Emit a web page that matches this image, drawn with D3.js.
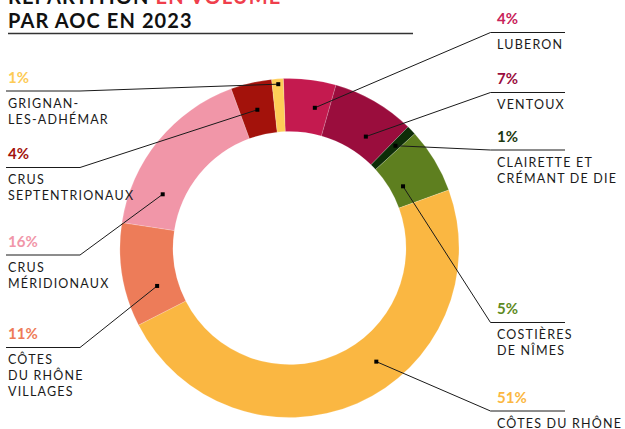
<!DOCTYPE html>
<html>
<head>
<meta charset="utf-8">
<script src="https://cdn.jsdelivr.net/npm/d3@7"></script>
<style>
  html, body { margin: 0; padding: 0; background: #fff; }
  svg { display: block; font-family: Lato, "Open Sans", sans-serif; }
</style>
</head>
<body>
<div id="grafica"></div>
<script>
// donnees : part du volume par AOC
const categories = ["Luberon", "Ventoux", "Clairette et Crémant de Die", "Costières de Nîmes",
  "Côtes du Rhône", "Côtes du Rhône Villages", "Crus méridionaux", "Crus septentrionaux", "Grignan-les-Adhémar"];
const shares = [5.0, 7.9, 0.9, 6.2, 48.0, 9.9, 17.0, 3.9, 1.1];
const pctLabels = ["4%", "7%", "1%", "5%", "51%", "11%", "16%", "4%", "1%"];
const nameLines = [["LUBERON"], ["VENTOUX"], ["CLAIRETTE ET", "CRÉMANT DE DIE"], ["COSTIÈRES", "DE NÎMES"],
  ["CÔTES DU RHÔNE"], ["CÔTES", "DU RHÔNE", "VILLAGES"], ["CRUS", "MÉRIDIONAUX"], ["CRUS", "SEPTENTRIONAUX"],
  ["GRIGNAN-", "LES-ADHÉMAR"]];

// couleurs
const colors = ["#c41a4f", "#9a0d3d", "#0d2d08", "#5e7f1f", "#fab742", "#ed7c59", "#f196a8", "#a3120b", "#fecd57"];
const textColors = ["#c8235a", "#9a0d3d", "#1c3a10", "#5e8a22", "#fbb741", "#ee7b58", "#f196a8", "#a3120b", "#fdcb55"];

// mise en page des etiquettes
const labelY = [32.5, 92.5, 150, 322.5, 411, 347.5, 255, 167.5, 91];
const dotPos = [[0.685, 0.49], [0.65, 0.35], [0.5, 0.58], [0.62, 0.24], [0.42, 0.5],
  [0.31, 0.4], [0.234, 0.4], [0.5, 0.48], [0.54, 0.9]];

let width = 625, height = 429;
let cx = 289.5, cy = 248;
let rOut = 169.5, rIn = 116.5;
let start = -2.1 * Math.PI / 180;

let svg = d3.select("#grafica").append("svg")
  .attr("width", width).attr("height", height);

// titre
svg.append("text").attr("x", 8).attr("y", 4)
  .style("font-size", "20px").style("font-weight", 700).style("letter-spacing", "1.1px")
  .call(t => {
    t.append("tspan").attr("fill", "#111").text("RÉPARTITION ");
    t.append("tspan").attr("fill", "#ef3f4c").text("EN VOLUME");
  });
svg.append("text").attr("x", 8).attr("y", 27.5)
  .attr("fill", "#111")
  .style("font-size", "20px").style("font-weight", 700).style("letter-spacing", "1.1px")
  .text("PAR AOC EN 2023");
svg.append("line").attr("x1", 8).attr("x2", 413).attr("y1", 33.5).attr("y2", 33.5)
  .attr("stroke", "#333").attr("stroke-width", 1.3);

let g = svg.append("g").attr("transform", "translate(" + cx + "," + cy + ")");

let pie = d3.pie().sort(null).value(d => d)
  .startAngle(start).endAngle(start + 2 * Math.PI);
let arcs = pie(shares);

let arcGen = d3.arc().innerRadius(rIn).outerRadius(rOut);

g.selectAll("path.slice")
  .data(arcs)
  .enter()
  .append("path")
  .attr("class", "slice")
  .attr("d", arcGen)
  .attr("fill", (d, i) => colors[i])
  .attr("stroke", "rgba(255,255,255,0.35)")
  .attr("stroke-width", 0.5);

// etiquettes + lignes de rappel
arcs.forEach((a, i) => {
  let mid = (a.startAngle + a.endAngle) / 2 - start;
  let left = mid > Math.PI;
  let ang = a.startAngle + dotPos[i][0] * (a.endAngle - a.startAngle);
  let r = rIn + dotPos[i][1] * (rOut - rIn);
  let p = d3.arc().innerRadius(r).outerRadius(r).startAngle(ang).endAngle(ang).centroid();
  let dot = [cx + p[0], cy + p[1]];
  let y = labelY[i];
  let elbowX = left ? 80 : 490.5;
  let endX = left ? 6 : 565;
  let textX = left ? 8 : 497;

  svg.append("polyline")
    .attr("points", [dot, [elbowX, y], [endX, y]].map(q => q.join(",")).join(" "))
    .attr("fill", "none").attr("stroke", "#1a1a1a").attr("stroke-width", 1);

  svg.append("rect")
    .attr("x", dot[0] - 2).attr("y", dot[1] - 2)
    .attr("width", 4).attr("height", 4).attr("fill", "#000");

  svg.append("text")
    .attr("x", textX).attr("y", y - 8.5)
    .attr("fill", textColors[i])
    .style("font-size", "15px").style("font-weight", 700)
    .text(pctLabels[i]);

  nameLines[i].forEach((ln, k) => {
    svg.append("text")
      .attr("x", textX).attr("y", y + 16.5 + k * 16)
      .attr("fill", "#1a1a1a")
      .style("font-size", "12.5px").style("letter-spacing", "1.2px")
      .text(ln);
  });
});
</script>
</body>
</html>
